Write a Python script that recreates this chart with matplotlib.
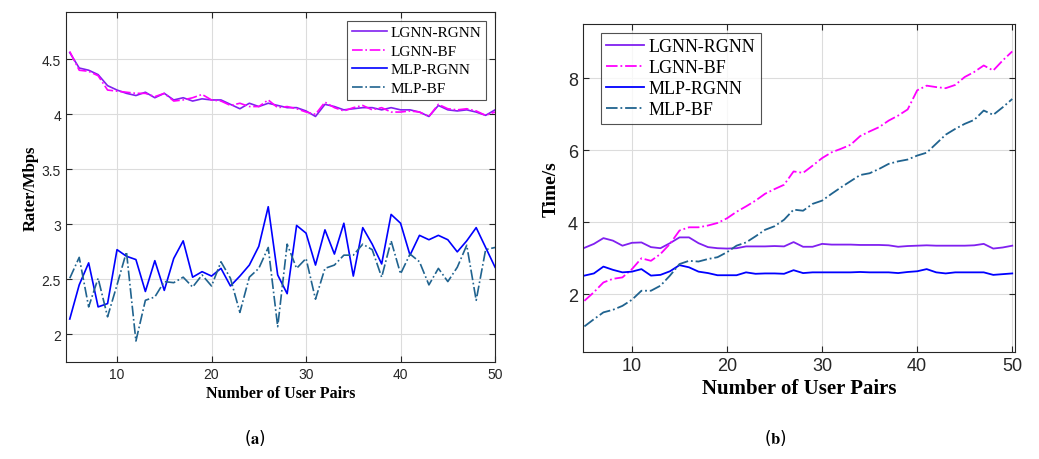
import numpy as np
import matplotlib
matplotlib.use('Agg')
import matplotlib.pyplot as plt
from matplotlib.ticker import FuncFormatter

# ---- data ----
users = list(range(5, 51))

rate_lgnn_rgnn = [4.56, 4.42, 4.40, 4.36, 4.26, 4.22, 4.19, 4.17, 4.20, 4.15,
                  4.19, 4.13, 4.15, 4.12, 4.14, 4.13, 4.13, 4.09, 4.05, 4.10,
                  4.07, 4.10, 4.08, 4.06, 4.06, 4.03, 3.98, 4.09, 4.07, 4.04,
                  4.05, 4.06, 4.06, 4.04, 4.06, 4.04, 4.04, 4.02, 3.98, 4.08,
                  4.04, 4.03, 4.04, 4.02, 3.99, 4.04]
rate_lgnn_bf = [4.57, 4.40, 4.39, 4.35, 4.22, 4.21, 4.20, 4.19, 4.19, 4.16,
                4.19, 4.12, 4.13, 4.15, 4.18, 4.13, 4.12, 4.08, 4.10, 4.07,
                4.07, 4.13, 4.06, 4.07, 4.05, 4.02, 4.00, 4.11, 4.06, 4.03,
                4.06, 4.08, 4.04, 4.06, 4.02, 4.02, 4.03, 4.02, 3.98, 4.09,
                4.05, 4.04, 4.05, 4.03, 3.99, 4.02]
rate_mlp_rgnn = [2.14, 2.45, 2.65, 2.25, 2.28, 2.77, 2.71, 2.68, 2.39, 2.67,
                 2.40, 2.69, 2.85, 2.52, 2.57, 2.53, 2.60, 2.44, 2.53, 2.63,
                 2.80, 3.16, 2.54, 2.37, 2.99, 2.92, 2.63, 2.95, 2.73, 3.01,
                 2.53, 2.97, 2.82, 2.64, 3.09, 3.01, 2.72, 2.90, 2.86, 2.90,
                 2.86, 2.75, 2.85, 2.97, 2.79, 2.61]
rate_mlp_bf = [2.51, 2.70, 2.25, 2.51, 2.16, 2.45, 2.75, 1.94, 2.31, 2.34,
               2.48, 2.47, 2.52, 2.43, 2.54, 2.44, 2.66, 2.51, 2.20, 2.52,
               2.60, 2.79, 2.07, 2.82, 2.60, 2.69, 2.32, 2.60, 2.63, 2.72,
               2.72, 2.82, 2.77, 2.52, 2.85, 2.55, 2.73, 2.66, 2.45, 2.60,
               2.48, 2.61, 2.81, 2.31, 2.77, 2.79]

time_lgnn_rgnn = [3.29, 3.40, 3.56, 3.49, 3.35, 3.43, 3.44, 3.31, 3.28, 3.42,
                  3.58, 3.58, 3.42, 3.31, 3.28, 3.27, 3.28, 3.33, 3.33, 3.33,
                  3.34, 3.33, 3.45, 3.32, 3.32, 3.40, 3.38, 3.38, 3.38, 3.37,
                  3.37, 3.37, 3.36, 3.32, 3.34, 3.35, 3.36, 3.35, 3.35, 3.35,
                  3.35, 3.36, 3.40, 3.27, 3.30, 3.35]
time_lgnn_bf = [1.82, 2.06, 2.33, 2.43, 2.47, 2.70, 3.00, 2.93, 3.12, 3.40,
                3.77, 3.86, 3.86, 3.91, 3.98, 4.11, 4.29, 4.44, 4.60, 4.79,
                4.92, 5.04, 5.41, 5.37, 5.57, 5.78, 5.94, 6.04, 6.15, 6.39,
                6.52, 6.64, 6.82, 6.96, 7.13, 7.66, 7.79, 7.75, 7.72, 7.81,
                8.03, 8.17, 8.35, 8.21, 8.49, 8.74]
time_mlp_rgnn = [2.52, 2.58, 2.77, 2.68, 2.61, 2.63, 2.70, 2.52, 2.54, 2.64,
                 2.81, 2.75, 2.63, 2.59, 2.53, 2.53, 2.53, 2.61, 2.57, 2.58,
                 2.58, 2.57, 2.67, 2.59, 2.61, 2.61, 2.61, 2.61, 2.61, 2.62,
                 2.61, 2.61, 2.61, 2.59, 2.62, 2.64, 2.70, 2.61, 2.58, 2.61,
                 2.61, 2.61, 2.61, 2.54, 2.56, 2.58]
time_mlp_bf = [1.11, 1.31, 1.50, 1.57, 1.68, 1.85, 2.10, 2.10, 2.24, 2.52,
               2.84, 2.93, 2.91, 2.98, 3.03, 3.17, 3.35, 3.44, 3.61, 3.79,
               3.89, 4.07, 4.35, 4.32, 4.51, 4.60, 4.79, 4.97, 5.14, 5.31,
               5.36, 5.48, 5.62, 5.69, 5.74, 5.85, 5.93, 6.18, 6.43, 6.59,
               6.73, 6.84, 7.10, 6.98, 7.19, 7.42]

labels = ['LGNN-RGNN', 'LGNN-BF', 'MLP-RGNN', 'MLP-BF']
colors = ['#8020F0', '#FF00FF', '#0000FF', '#20638F']
styles = ['-', '-.', '-', '-.']

serif = 'Liberation Serif'
sans = 'Liberation Sans'
plt.rcParams['mathtext.fontset'] = 'stix'

fig = plt.figure(figsize=(10.39, 4.6), dpi=100)
ax1 = fig.add_axes([0.0635, 0.211, 0.413, 0.761])
ax2 = fig.add_axes([0.561, 0.2326, 0.416, 0.713])

fmt = FuncFormatter(lambda v, p: '%g' % v)


def style_axes(ax, tick_size):
    ax.grid(True, color='#dcdcdc', linewidth=0.8)
    ax.set_axisbelow(True)
    ax.xaxis.set_major_formatter(fmt)
    ax.yaxis.set_major_formatter(fmt)
    ax.tick_params(direction='in', top=True, right=True, length=4,
                   labelsize=tick_size, colors='#262626')
    for sp in ax.spines.values():
        sp.set_color('#262626')
        sp.set_linewidth(0.8)
    for lab in ax.get_xticklabels() + ax.get_yticklabels():
        lab.set_family(sans)


# ---- (a) rate ----
rate_series = [rate_lgnn_rgnn, rate_lgnn_bf, rate_mlp_rgnn, rate_mlp_bf]
for s, lab, c, ls in zip(rate_series, labels, colors, styles):
    ax1.plot(users, s, ls, color=c, label=lab, linewidth=1.2)
ax1.set_xlim(4.6, 50)
ax1.set_ylim(1.75, 4.93)
ax1.set_xticks([10, 20, 30, 40, 50])
ax1.set_yticks([2, 2.5, 3, 3.5, 4, 4.5])
style_axes(ax1, 10)
ax1.set_xlabel('Number of User Pairs', family=serif, fontweight='bold', fontsize=11.5, labelpad=3)
ax1.set_ylabel('Rater/Mbps', family=serif, fontweight='bold', fontsize=12, labelpad=2)
leg1 = ax1.legend(loc='upper right', prop={'family': serif, 'size': 11},
                  fancybox=False, edgecolor='#262626', handlelength=2.3,
                  borderpad=0.3, labelspacing=0.32, handletextpad=0.25,
                  borderaxespad=0.6)
leg1.get_frame().set_linewidth(0.8)

# ---- (b) time ----
time_series = [time_lgnn_rgnn, time_lgnn_bf, time_mlp_rgnn, time_mlp_bf]
for s, lab, c, ls in zip(time_series, labels, colors, styles):
    ax2.plot(users, s, ls, color=c, label=lab, linewidth=1.3)
ax2.set_xlim(4.84, 50.3)
ax2.set_ylim(0.4, 9.5)
ax2.set_xticks([10, 20, 30, 40, 50])
ax2.set_yticks([2, 4, 6, 8])
style_axes(ax2, 13)
ax2.set_xlabel('Number of User Pairs', family=serif, fontweight='bold', fontsize=15, labelpad=3)
ax2.set_ylabel('Time/s', family=serif, fontweight='bold', fontsize=14, labelpad=6)
leg2 = ax2.legend(loc='upper left', bbox_to_anchor=(0.042, 0.973),
                  prop={'family': serif, 'size': 13},
                  fancybox=False, edgecolor='#262626', handlelength=2.1,
                  borderpad=0.3, labelspacing=0.22, handletextpad=0.25,
                  borderaxespad=0.0)
leg2.get_frame().set_linewidth(0.8)

# captions
fig.text(0.245, 0.048, r'($\mathbf{a}$)', ha='center', va='center', fontsize=12)
fig.text(0.746, 0.048, r'($\mathbf{b}$)', ha='center', va='center', fontsize=12)

fig.savefig('out.png', dpi=100)
